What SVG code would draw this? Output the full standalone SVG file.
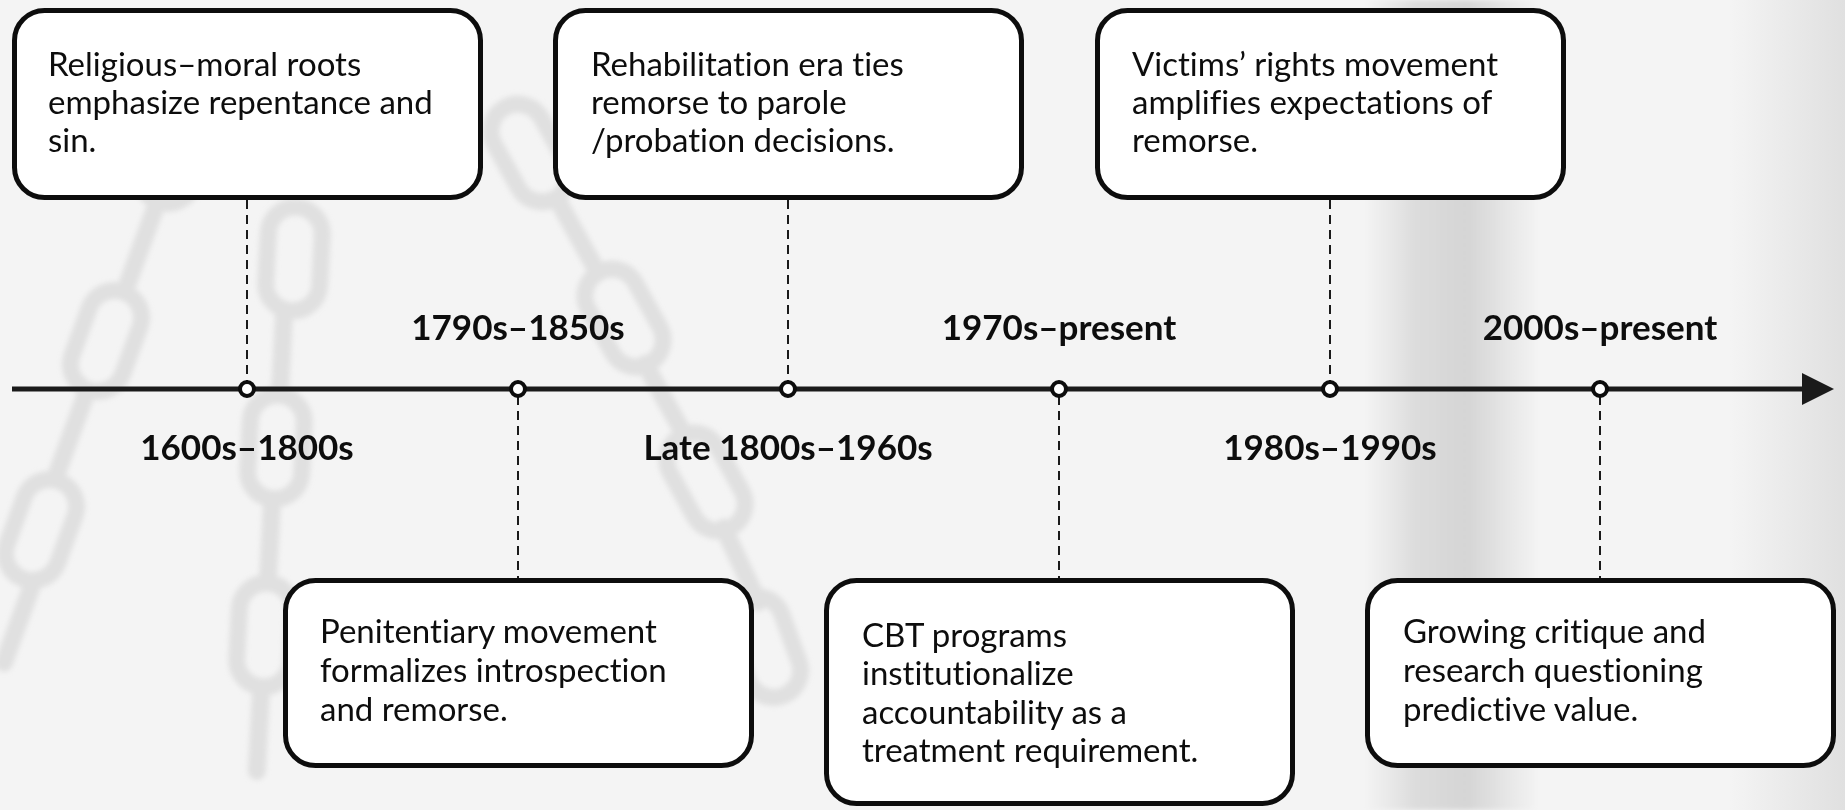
<svg xmlns="http://www.w3.org/2000/svg" xmlns:xlink="http://www.w3.org/1999/xlink" width="1845" height="810" viewBox="0 0 1845 810">
  <style>
    text { font-variant-ligatures: none; font-feature-settings: "liga" 0, "dlig" 0, "clig" 0; }
    .box { fill: #ffffff; stroke: #0d0d0d; stroke-width: 5; }
    .body { font-family: Lato, "Liberation Sans", sans-serif; font-size: 33px; fill: #0d0d0d; }
    .lbl { font-family: Lato, "Liberation Sans", sans-serif; font-size: 35px; font-weight: bold; fill: #0d0d0d; text-anchor: middle; }
    .dash { stroke: #1a1a1a; stroke-width: 2; stroke-dasharray: 9 6; fill: none; }
    .dot { fill: #ffffff; stroke: #0d0d0d; stroke-width: 4; }
    .ring { fill: none; stroke: #e0e0e0; stroke-width: 17; }
    .bar { fill: #e0e0e0; }
  </style>
  <defs>
    <marker id="arrow" markerUnits="userSpaceOnUse" markerWidth="34" markerHeight="34" refX="2" refY="17" orient="auto">
      <path d="M0,1 L32,17 L0,33 Z" fill="#1a1a1a"/>
    </marker>
    <linearGradient id="band" x1="0" y1="0" x2="1" y2="0">
      <stop offset="0" stop-color="#f4f4f4"/>
      <stop offset="0.3" stop-color="#dcdcdc"/>
      <stop offset="0.6" stop-color="#d5d5d5"/>
      <stop offset="1" stop-color="#f2f2f2"/>
    </linearGradient>
    <linearGradient id="edge" x1="0" y1="0" x2="1" y2="0">
      <stop offset="0" stop-color="#f4f4f4"/>
      <stop offset="1" stop-color="#e0e0e0"/>
    </linearGradient>
    <filter id="soft" x="-10%" y="-10%" width="120%" height="120%">
      <feGaussianBlur stdDeviation="2.5"/>
    </filter>
    <rect id="ring" x="-27" y="-52" width="54" height="104" rx="27"/>
    <rect id="bar" x="-9" y="-50" width="18" height="100" rx="9"/>
  </defs>

  <g id="background">
    <rect x="0" y="0" width="1845" height="810" fill="#f4f4f4"/>
    <rect x="1365" y="0" width="170" height="810" fill="url(#band)" filter="url(#soft)"/>
    <rect x="1730" y="0" width="115" height="810" fill="url(#edge)"/>
    <g filter="url(#soft)">
      <g class="ring">
        <use xlink:href="#ring" transform="translate(176,153) rotate(20)"/>
        <use xlink:href="#ring" transform="translate(106,341) rotate(20)"/>
        <use xlink:href="#ring" transform="translate(41,530) rotate(20)"/>
        <use xlink:href="#ring" transform="translate(294,259) rotate(3)"/>
        <use xlink:href="#ring" transform="translate(276,447) rotate(3)"/>
        <use xlink:href="#ring" transform="translate(265,635) rotate(3)"/>
        <use xlink:href="#ring" transform="translate(530,153) rotate(-29)"/>
        <use xlink:href="#ring" transform="translate(624,318) rotate(-29)"/>
        <use xlink:href="#ring" transform="translate(706,482) rotate(-29)"/>
        <use xlink:href="#ring" transform="translate(765,647) rotate(-20)"/>
      </g>
      <g class="bar">
        <use xlink:href="#bar" transform="translate(141,247) rotate(20)"/>
        <use xlink:href="#bar" transform="translate(71,435) rotate(20)"/>
        <use xlink:href="#bar" transform="translate(18,624) rotate(20)"/>
        <use xlink:href="#bar" transform="translate(282,353) rotate(3)"/>
        <use xlink:href="#bar" transform="translate(270,541) rotate(3)"/>
        <use xlink:href="#bar" transform="translate(259,730) rotate(3)"/>
        <use xlink:href="#bar" transform="translate(577,235) rotate(-29)"/>
        <use xlink:href="#bar" transform="translate(665,400) rotate(-29)"/>
        <use xlink:href="#bar" transform="translate(741,565) rotate(-25)"/>
      </g>
    </g>
  </g>

  <g id="connectors">
    <line x1="12" y1="389" x2="1804" y2="389" stroke="#1a1a1a" stroke-width="5" marker-end="url(#arrow)"/>
    <line class="dash" x1="247" y1="200" x2="247" y2="382"/>
    <line class="dash" x1="788" y1="200" x2="788" y2="382"/>
    <line class="dash" x1="1330" y1="200" x2="1330" y2="382"/>
    <line class="dash" x1="518" y1="396" x2="518" y2="578"/>
    <line class="dash" x1="1059" y1="396" x2="1059" y2="578"/>
    <line class="dash" x1="1600" y1="396" x2="1600" y2="578"/>
  </g>

  <g id="dots">
    <circle class="dot" cx="247" cy="389" r="7"/>
    <circle class="dot" cx="518" cy="389" r="7"/>
    <circle class="dot" cx="788" cy="389" r="7"/>
    <circle class="dot" cx="1059" cy="389" r="7"/>
    <circle class="dot" cx="1330" cy="389" r="7"/>
    <circle class="dot" cx="1600" cy="389" r="7"/>
  </g>

  <g id="labels">
    <text class="lbl" x="247" y="460">1600s–1800s</text>
    <text class="lbl" x="518" y="340">1790s–1850s</text>
    <text class="lbl" x="788" y="460">Late 1800s–1960s</text>
    <text class="lbl" x="1059" y="340">1970s–present</text>
    <text class="lbl" x="1330" y="460">1980s–1990s</text>
    <text class="lbl" x="1600" y="340">2000s–present</text>
  </g>

  <g id="node-religious">
    <rect class="box" x="14.5" y="10.5" width="466" height="187" rx="30"/>
    <text class="body"><tspan x="48" y="76">Religious–moral roots</tspan><tspan x="48" y="114">emphasize repentance and</tspan><tspan x="48" y="152">sin.</tspan></text>
  </g>
  <g id="node-rehabilitation">
    <rect class="box" x="555.5" y="10.5" width="466" height="187" rx="30"/>
    <text class="body"><tspan x="591" y="76">Rehabilitation era ties</tspan><tspan x="591" y="114">remorse to parole</tspan><tspan x="591" y="152">/probation decisions.</tspan></text>
  </g>
  <g id="node-victims">
    <rect class="box" x="1097.5" y="10.5" width="466" height="187" rx="30"/>
    <text class="body"><tspan x="1132" y="76">Victims’ rights movement</tspan><tspan x="1132" y="114">amplifies expectations of</tspan><tspan x="1132" y="152">remorse.</tspan></text>
  </g>
  <g id="node-penitentiary">
    <rect class="box" x="285.5" y="580.5" width="466" height="185" rx="30"/>
    <text class="body"><tspan x="320" y="643">Penitentiary movement</tspan><tspan x="320" y="682">formalizes introspection</tspan><tspan x="320" y="721">and remorse.</tspan></text>
  </g>
  <g id="node-cbt">
    <rect class="box" x="826.5" y="580.5" width="466" height="223" rx="30"/>
    <text class="body"><tspan x="862" y="647">CBT programs</tspan><tspan x="862" y="685">institutionalize</tspan><tspan x="862" y="724">accountability as a</tspan><tspan x="862" y="762">treatment requirement.</tspan></text>
  </g>
  <g id="node-critique">
    <rect class="box" x="1367.5" y="580.5" width="466" height="185" rx="30"/>
    <text class="body"><tspan x="1403" y="643">Growing critique and</tspan><tspan x="1403" y="682">research questioning</tspan><tspan x="1403" y="721">predictive value.</tspan></text>
  </g>
</svg>
